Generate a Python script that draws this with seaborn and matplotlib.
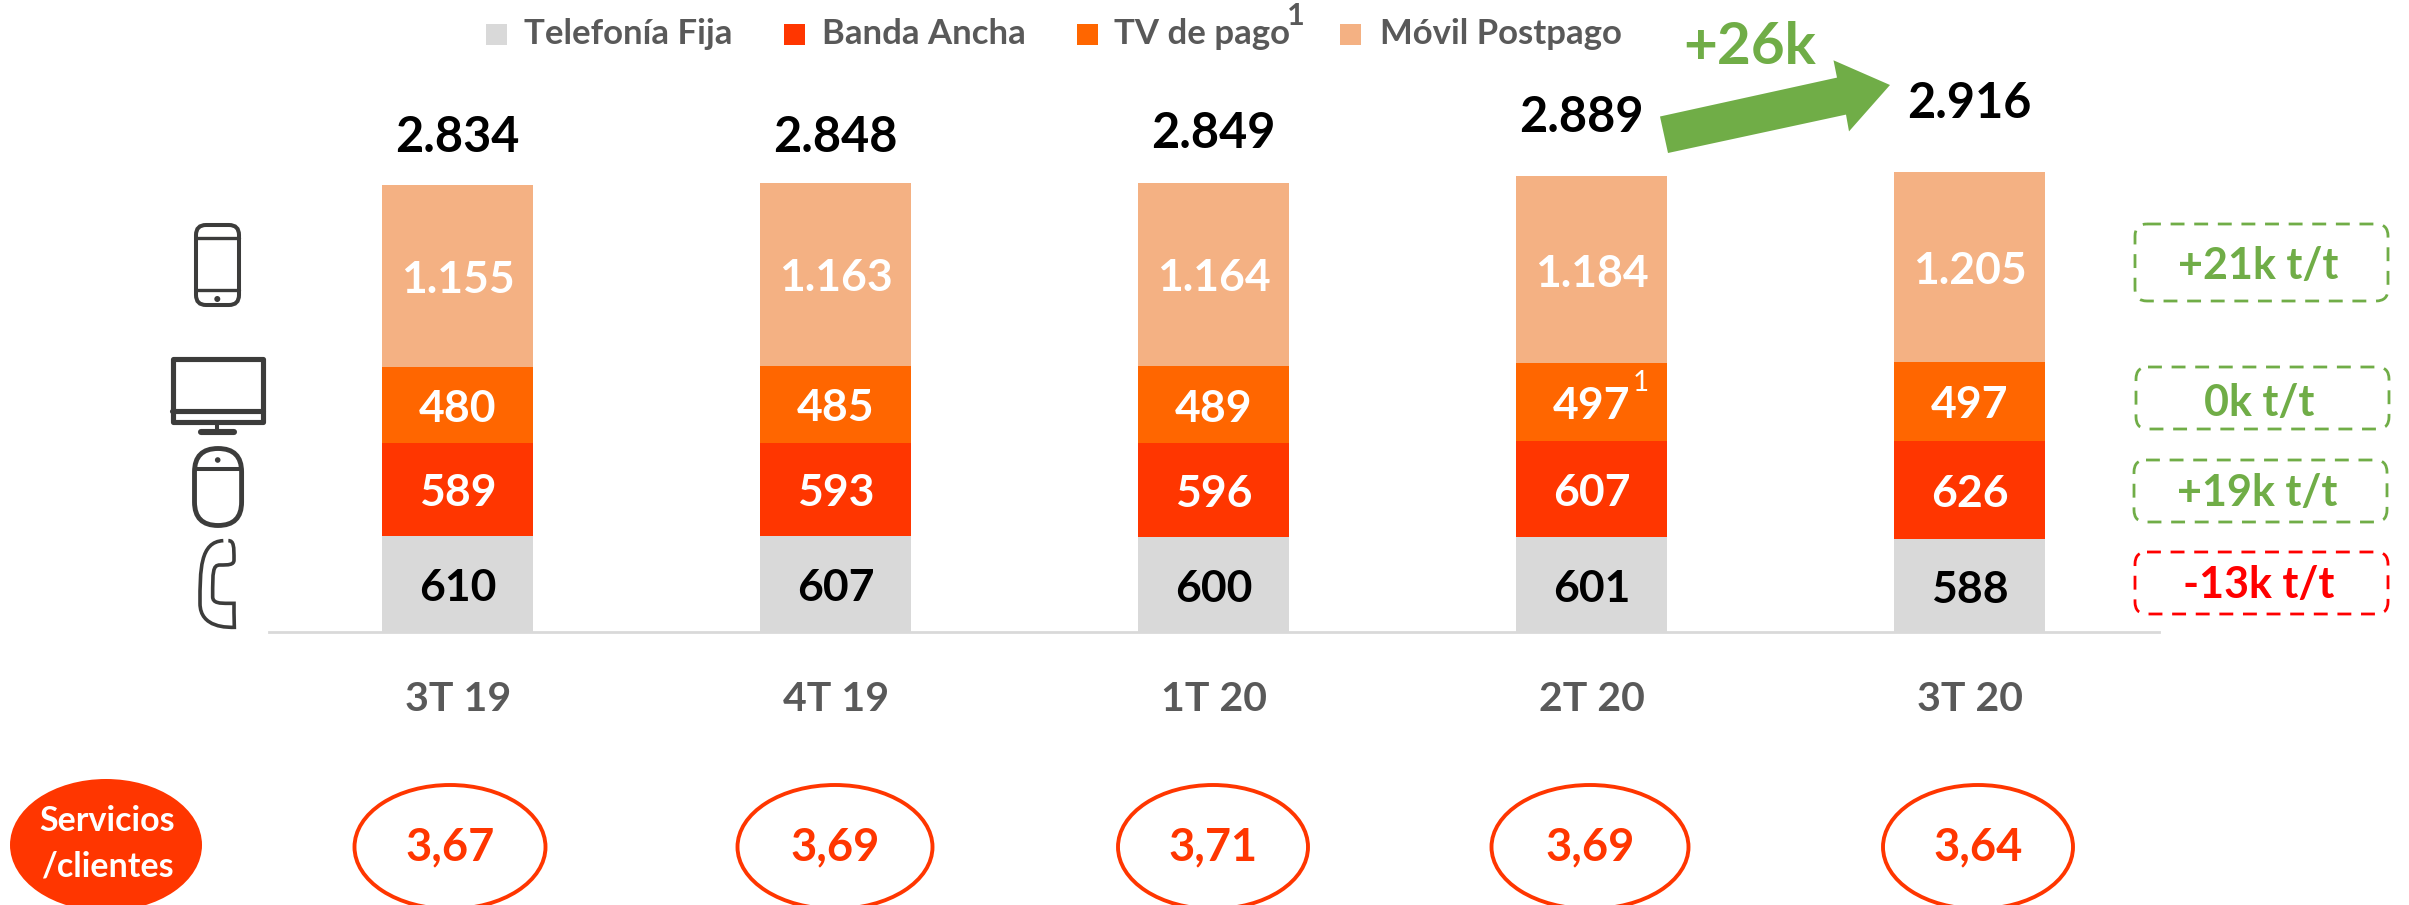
import matplotlib
matplotlib.use("Agg")
import matplotlib.pyplot as plt
import numpy as np
import seaborn as sns
from matplotlib.patches import Ellipse, FancyBboxPatch, Polygon, PathPatch, Circle, Rectangle
from matplotlib.path import Path

periods = ["3T 19", "4T 19", "1T 20", "2T 20", "3T 20"]
fija = [610, 607, 600, 601, 588]
banda = [589, 593, 596, 607, 626]
tv = [480, 485, 489, 497, 497]
movil = [1155, 1163, 1164, 1184, 1205]
totals = ["2.834", "2.848", "2.849", "2.889", "2.916"]
ratios = ["3,67", "3,69", "3,71", "3,69", "3,64"]
series_names = ["Telefonía Fija", "Banda Ancha", "TV de pago", "Móvil Postpago"]
changes = ["+21k t/t", "0k t/t", "+19k t/t", "-13k t/t"]

W, H = 2409, 905
GREY, RED, ORANGE, PEACH = "#D9D9D9", "#FF3600", "#FF6600", "#F4B183"
GREEN, DARK, ICON = "#70AD47", "#595959", "#3C3C3B"

sns.set_theme(style="white")
plt.rcParams["font.family"] = ["Lato", "DejaVu Sans"]
plt.rcParams["font.weight"] = "bold"

fig = plt.figure(figsize=(W / 100, H / 100), dpi=100, facecolor="white")
base_px = 632
x0_px, x1_px = 268.7, 2158.7
ax = fig.add_axes([x0_px / W, 1 - base_px / H, (x1_px - x0_px) / W, base_px / H])
ax.patch.set_alpha(0)

stack = [fija, banda, tv, movil]
colors = [GREY, RED, ORANGE, PEACH]
label_colors = ["black", "white", "white", "white"]
bottom = np.zeros(5)
for vals, col, name, lc in zip(stack, colors, series_names, label_colors):
    vals = np.array(vals)
    sns.barplot(x=periods, y=vals, bottom=bottom, color=col, saturation=1, width=151 / 378,
                ax=ax, label=name, linewidth=0)
    for i, v in enumerate(vals):
        s = f"{v:,}".replace(",", ".")
        ax.annotate(s, (i, bottom[i] + v / 2), xytext=(0, -2.8), textcoords="offset points",
                    ha="center", va="center", fontsize=32, color=lc, fontweight="bold")
    bottom = bottom + vals
if ax.get_legend():
    ax.get_legend().remove()

ax.set_xlim(-0.5, 4.5)
ax.set_ylim(0, base_px / 0.1577)
sns.despine(ax=ax, left=True, top=True, right=True)
ax.spines["bottom"].set_color(GREY)
ax.spines["bottom"].set_linewidth(2)
ax.set_yticks([])
ax.tick_params(axis="x", length=0, pad=35)
for t in ax.get_xticklabels():
    t.set_fontsize(29.5)
    t.set_color(DARK)
    t.set_fontweight("bold")
ax.grid(False)

# pixel-space overlay for annotations
ov = fig.add_axes([0, 0, 1, 1])
ov.set_xlim(0, W)
ov.set_ylim(H, 0)
ov.axis("off")
ov.patch.set_alpha(0)

centers = [457.7 + 378 * i for i in range(5)]
total_y = [137, 137, 134, 117, 104]
for cx, s, y in zip(centers, totals, total_y):
    ov.text(cx if s != "2.889" else 1581, y, s, ha="center", va="center", fontsize=35, color="black")
ov.text(1641, 383, "1", ha="center", va="center", fontsize=20, color="white", fontweight="normal")

# legend
for sq, tx, col, name in zip([486, 784, 1077, 1340], [524, 822, 1114, 1380], colors, series_names):
    ov.add_patch(Rectangle((sq, 24), 21, 21, fc=col, ec="none"))
    ov.text(tx, 34, name, ha="left", va="center", fontsize=25, color=DARK)
ov.text(1296, 16, "1", ha="center", va="center", fontsize=22, color=DARK)

# arrow
ov.add_patch(Polygon([(1660, 116.5), (1668, 153), (1846, 114.6), (1849, 131.4), (1890, 85),
                      (1833.5, 60.3), (1837, 77.6)], closed=True, fc=GREEN, ec="none"))
ov.text(1750, 47, "+26k", ha="center", va="center", fontsize=42, color=GREEN)

# dashed boxes
boxes = [(2135, 224, 2388, 301), (2136, 367, 2389, 429), (2134, 460, 2387, 522), (2135, 552, 2388, 614)]
box_cols = [GREEN, GREEN, GREEN, "#FF0000"]
text_y = [266, 403, 493, 585]
for (a, b, c, d), col, s, ty in zip(boxes, box_cols, changes, text_y):
    ov.add_patch(FancyBboxPatch((a + 12, b + 12), c - a - 24, d - b - 24,
                                boxstyle="round,pad=12,rounding_size=12", fc="none", ec=col,
                                lw=2, ls=(0, (5, 3.5))))
    ov.text((a + c) / 2 - 3, ty, s, ha="center", va="center", fontsize=31, color=col)

# ratio ellipses
ov.add_patch(Ellipse((106, 845), 192, 132, fc=RED, ec="none"))
ov.text(107, 821, "Servicios", ha="center", va="center", fontsize=24.5, color="white")
ov.text(107, 866, "/clientes", ha="center", va="center", fontsize=24.5, color="white")
ell_x = [450, 835, 1213, 1590, 1978]
ell_w = [191, 195, 190, 197, 190]
for cx, w, s in zip(ell_x, ell_w, ratios):
    ov.add_patch(Ellipse((cx, 847), w, 124, fc="none", ec=RED, lw=2.8))
    ov.text(cx, 847, s, ha="center", va="center", fontsize=32.5, color=RED)

# icons
lw = 2.9
ov.add_patch(FancyBboxPatch((202, 231), 31, 68, boxstyle="round,pad=6,rounding_size=10",
                            fc="none", ec=ICON, lw=lw))
ov.plot([196, 239], [238, 238], color=ICON, lw=lw - .5)
ov.plot([196, 239], [290, 290], color=ICON, lw=lw - .5)
ov.add_patch(Circle((217.3, 299), 3, fc=ICON, ec="none"))

ov.add_patch(Rectangle((172.5, 359), 90, 63, fc="none", ec=ICON, lw=lw + .8, joinstyle="round"))
ov.plot([172, 263], [411, 411], color=ICON, lw=lw + .8)
ov.plot([217, 217], [424, 431], color=ICON, lw=lw)
ov.plot([201, 234], [431.5, 431.5], color=ICON, lw=lw + 1.5, solid_capstyle="round")

ov.add_patch(FancyBboxPatch((218, 472), 0.1, 30, boxstyle="round,pad=23.5,rounding_size=23.5",
                            fc="none", ec=ICON, lw=lw + .6))
ov.plot([195, 241], [469, 469], color=ICON, lw=lw)
ov.add_patch(Circle((217.7, 460), 2.8, fc=ICON, ec="none"))

pts = [(310, 1082), (240, 1085), (240, 1170), (240, 1270), (240, 1345), (325, 1342),
       (343, 1342), (342, 1310), (342, 1285), (342, 1270), (325, 1270), (300, 1270),
       (278, 1270), (278, 1250), (278, 1175), (278, 1155), (300, 1155), (325, 1155),
       (342, 1155), (342, 1140), (342, 1100), (342, 1082), (325, 1082), (310, 1082)]
pts = [(120 + x / 3, 180 + y / 3) for x, y in pts]
codes = [Path.MOVETO] + [Path.CURVE4, Path.CURVE4, Path.CURVE4,
                         Path.CURVE4, Path.CURVE4, Path.CURVE4,
                         Path.CURVE4, Path.CURVE4, Path.CURVE4,
                         Path.LINETO, Path.CURVE4, Path.CURVE4,
                         Path.LINETO, Path.CURVE4, Path.CURVE4,
                         Path.LINETO, Path.CURVE4, Path.CURVE4,
                         Path.LINETO, Path.CURVE4, Path.CURVE4, Path.LINETO]
ov.add_patch(PathPatch(Path(pts[:len(codes)], codes), fc="none", ec=ICON, lw=lw - .3))

fig.savefig("out.png", dpi=100, facecolor="white")
